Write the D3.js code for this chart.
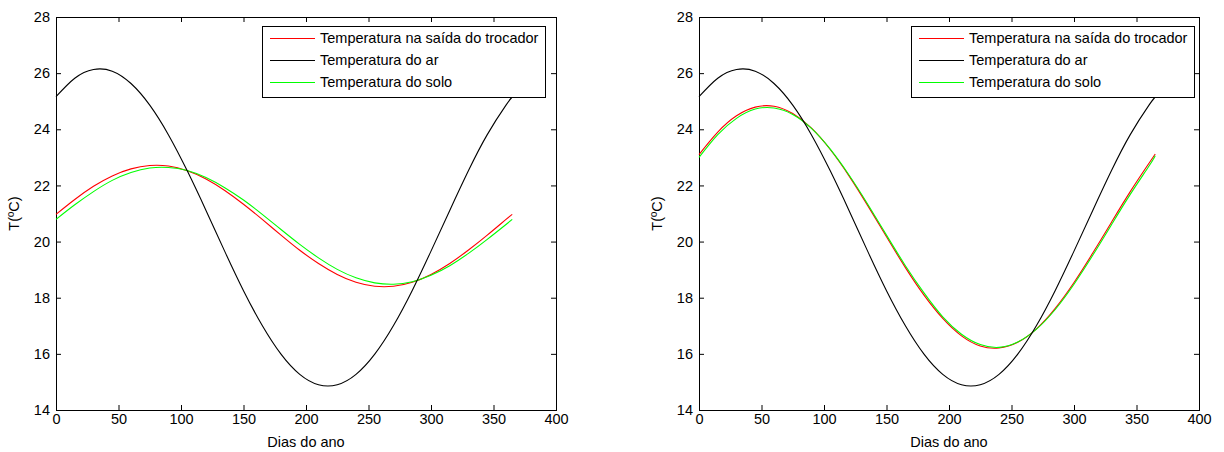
<!DOCTYPE html>
<html>
<head>
<meta charset="utf-8">
<script src="https://cdn.jsdelivr.net/npm/d3@7"></script>
<style>
  body { margin: 0; background: #fff; }
  text { font-family: "Liberation Sans", Arial, sans-serif; }
</style>
</head>
<body>
<svg id="chart" width="1224" height="452"></svg>
<script>
const days = [0, 15, 30, 45, 60, 75, 90, 105, 120, 135, 150, 165, 180,
  195, 210, 225, 240, 255, 270, 285, 300, 315, 330, 345, 360, 365];

// air temperature (same in both panels)
const airTemp = [25.16, 25.82, 26.13, 26.07, 25.63, 24.86, 23.80, 22.52, 21.11, 19.65,
  18.25, 17.01, 15.99, 15.27, 14.90, 14.90, 15.27, 15.99, 17.01, 18.26, 19.66, 21.11,
  22.53, 23.81, 24.86, 25.15];

// left panel
const outTempA = [20.97, 21.50, 21.97, 22.34, 22.59, 22.71, 22.69, 22.52, 22.23, 21.82,
  21.33, 20.79, 20.23, 19.69, 19.22, 18.83, 18.55, 18.41, 18.41, 18.55, 18.83, 19.22,
  19.70, 20.23, 20.79, 20.97];
const soilTempA = [20.79, 21.31, 21.78, 22.18, 22.46, 22.62, 22.64, 22.53, 22.28, 21.92,
  21.48, 20.97, 20.43, 19.90, 19.42, 19.01, 18.71, 18.53, 18.48, 18.57, 18.80, 19.14,
  19.58, 20.08, 20.61, 20.79];

// right panel
const outTempB = [23.10, 23.90, 24.48, 24.79, 24.82, 24.56, 24.04, 23.28, 22.34, 21.28,
  20.17, 19.08, 18.09, 17.26, 16.64, 16.28, 16.21, 16.41, 16.89, 17.62, 18.54, 19.59,
  20.69, 21.78, 22.79, 23.12];
const soilTempB = [23.00, 23.81, 24.39, 24.72, 24.76, 24.53, 24.03, 23.29, 22.37, 21.33,
  20.23, 19.15, 18.17, 17.32, 16.70, 16.33, 16.23, 16.42, 16.88, 17.58, 18.48, 19.51,
  20.60, 21.68, 22.69, 23.06];

const legendLabels = ["Temperatura na saída do trocador", "Temperatura do ar", "Temperatura do solo"];
const seriesColors = ["#ff0000", "#000000", "#00ff00"];
const xTicks = [0, 50, 100, 150, 200, 250, 300, 350, 400];
const yTicks = [14, 16, 18, 20, 22, 24, 26, 28];
const xLabel = "Dias do ano";
const yLabel = "T(ºC)";

const svg = d3.select("#chart");
const fontSize = "14.5px";

const panels = [
  { left: 56, series: [outTempA, airTemp, soilTempA], legendGap: 11 },
  { left: 699, series: [outTempB, airTemp, soilTempB], legendGap: 5 }
];
const plotW = 500, plotTop = 17, plotBottom = 410;

panels.forEach(p => {
  const x = d3.scaleLinear().domain([0, 400]).range([p.left, p.left + plotW]);
  const y = d3.scaleLinear().domain([14, 28]).range([plotBottom, plotTop]);
  const g = svg.append("g");

  const styleAxis = sel => {
    sel.select(".domain").remove();
    sel.selectAll("line").attr("stroke", "#000");
    sel.selectAll("text").attr("fill", "#000").style("font-size", fontSize)
      .style("font-family", "'Liberation Sans', Arial, sans-serif");
  };

  g.append("g").attr("transform", `translate(0,${plotBottom})`)
    .call(d3.axisBottom(x).tickValues(xTicks).tickSizeInner(-5).tickSizeOuter(0).tickPadding(4))
    .call(styleAxis);
  g.append("g").attr("transform", `translate(0,${plotTop})`)
    .call(d3.axisTop(x).tickValues(xTicks).tickSizeInner(-5).tickSizeOuter(0).tickFormat(""))
    .call(styleAxis);
  g.append("g").attr("transform", `translate(${p.left},0)`)
    .call(d3.axisLeft(y).tickValues(yTicks).tickSizeInner(-5).tickSizeOuter(0).tickPadding(6))
    .call(styleAxis);
  g.append("g").attr("transform", `translate(${p.left + plotW},0)`)
    .call(d3.axisRight(y).tickValues(yTicks).tickSizeInner(-5).tickSizeOuter(0).tickFormat(""))
    .call(styleAxis);

  g.append("rect")
    .attr("x", p.left + 0.5).attr("y", plotTop + 0.5)
    .attr("width", plotW).attr("height", plotBottom - plotTop)
    .attr("fill", "none").attr("stroke", "#000").attr("stroke-width", 1);

  const line = d3.line()
    .x((d, i) => x(days[i]))
    .y(d => y(d))
    .curve(d3.curveNatural);

  // draw order: red, green, black so black stays visible at crossings
  [0, 2, 1].forEach(k => {
    g.append("path")
      .datum(p.series[k])
      .attr("d", line)
      .attr("fill", "none")
      .attr("stroke", seriesColors[k])
      .attr("stroke-width", 1.1);
  });

  g.append("text")
    .attr("x", p.left + plotW / 2).attr("y", 447)
    .attr("text-anchor", "middle").style("font-size", fontSize)
    .text(xLabel);
  g.append("text")
    .attr("transform", `translate(${p.left - 37},${(plotTop + plotBottom) / 2}) rotate(-90)`)
    .attr("text-anchor", "middle").style("font-size", fontSize)
    .text(yLabel);

  // legend
  const lg = g.append("g");
  const rowY = [38, 60, 82];
  const texts = legendLabels.map((t, i) => lg.append("text")
    .attr("y", rowY[i] + 5).style("font-size", fontSize).text(t));
  const tw = d3.max(texts, t => t.node().getComputedTextLength());
  const boxW = Math.round(tw + 65);
  const bx = p.left + plotW - p.legendGap - boxW;
  lg.insert("rect", "text")
    .attr("x", bx + 0.5).attr("y", 26.5)
    .attr("width", boxW).attr("height", 71)
    .attr("fill", "#fff").attr("stroke", "#000");
  texts.forEach(t => t.attr("x", bx + 58));
  legendLabels.forEach((t, i) => {
    lg.append("line")
      .attr("x1", bx + 8).attr("x2", bx + 53)
      .attr("y1", rowY[i] + 0.5).attr("y2", rowY[i] + 0.5)
      .attr("stroke", seriesColors[i]).attr("stroke-width", 1.1);
  });
});
</script>
</body>
</html>
